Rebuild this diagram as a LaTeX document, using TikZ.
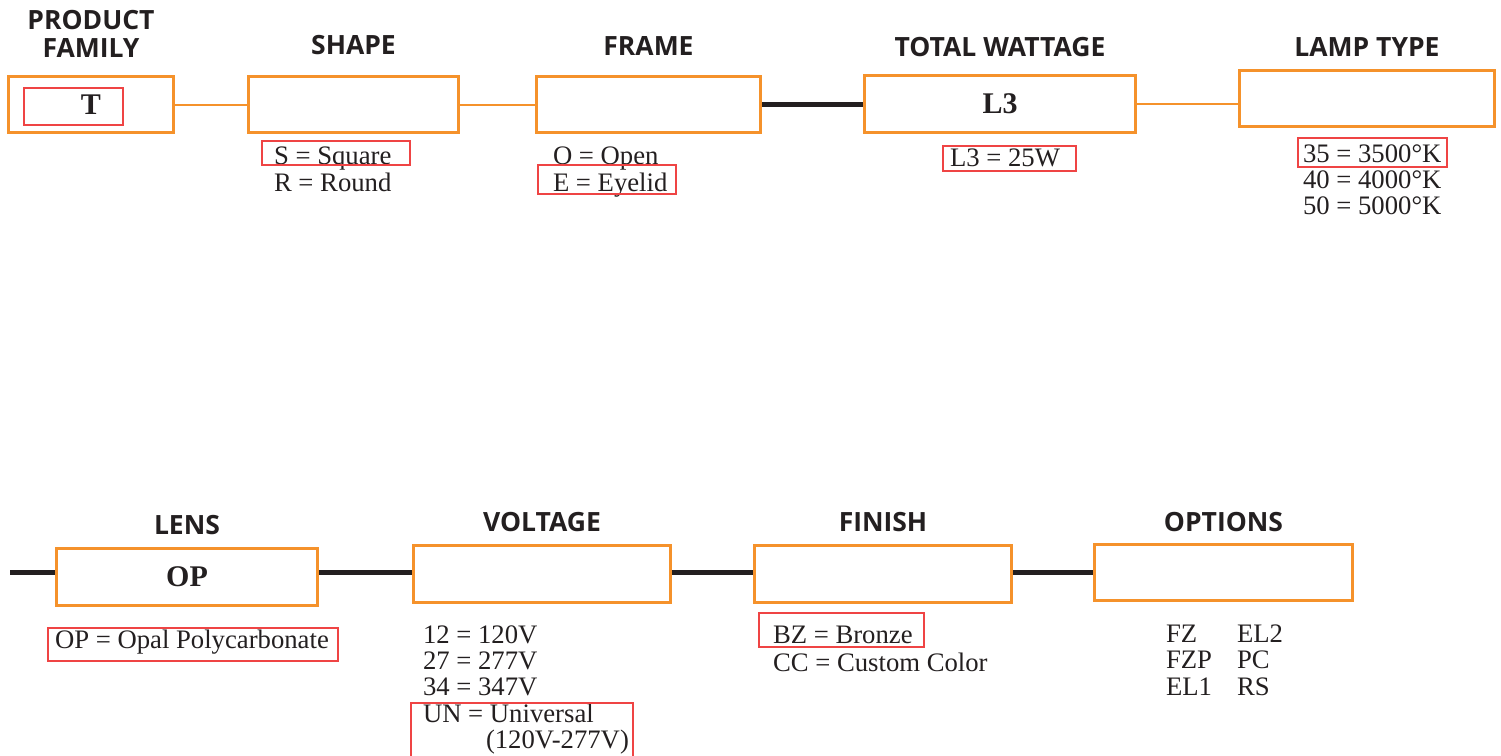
\documentclass[tikz,border=0pt]{standalone}
\usepackage{fontspec}
\setmainfont{Liberation Serif}
\newfontfamily\headfont{Open Sans}
\usetikzlibrary{positioning,backgrounds}
\definecolor{boxorange}{HTML}{F5922B}
\definecolor{pickred}{HTML}{EF4444}
\definecolor{inkblack}{HTML}{231F20}

\begin{document}
\begin{tikzpicture}[x=1pt,y=-1pt,
  every node/.style={inner sep=0pt,outer sep=0pt,text=inkblack},
  field/.style={draw=boxorange,line width=3pt,anchor=north west},
  head/.style={font=\headfont\bfseries\fontsize{26.5}{28}\selectfont,align=center},
  code/.style={font=\bfseries\fontsize{30}{30}\selectfont},
  opt/.style={font=\fontsize{26.7}{26}\selectfont,anchor=base west},
  pick/.style={draw=pickred,line width=2.6pt,anchor=north west},
  thinlink/.style={draw=boxorange,line width=2pt},
  thicklink/.style={draw=inkblack,line width=5pt}
]
\useasboundingbox (0,0) rectangle (1501,755);

% first row
\node[field,minimum width=165,minimum height=56] (fam) at (8.5,76.5) {\bfseries\fontsize{30}{30}\selectfont T};
\node[field,minimum width=210,minimum height=56] (shape) at (248.5,76.5) {};
\node[field,minimum width=224,minimum height=56] (frame) at (536.5,76.5) {};
\node[field,minimum width=271,minimum height=57] (watt) at (864.5,75.5) {};
\node[field,minimum width=255,minimum height=56] (lamp) at (1239.5,70.5) {};
\node[code] at (watt) {L3};

\node[head,above=19.5pt of fam] {PRODUCT\\FAMILY};
\node[head,above=21.5pt of shape] {SHAPE};
\node[head,above=21.5pt of frame] {FRAME};
\node[head,above=18.5pt of watt] {TOTAL WATTAGE};
\node[head,above=14.5pt of lamp] {LAMP TYPE};

% second row
\node[field,minimum width=261,minimum height=57] (lens) at (56.5,548.5) {};
\node[field,minimum width=257,minimum height=57] (volt) at (413.5,545.5) {};
\node[field,minimum width=257,minimum height=57] (finish) at (754.5,545.5) {};
\node[field,minimum width=258,minimum height=56] (options) at (1094.5,544.5) {};
\node[code] at (lens) {OP};

\node[head,above=13.5pt of lens] {LENS};
\node[head,above=13.5pt of volt] {VOLTAGE};
\node[head,above=13.5pt of finish] {FINISH};
\node[head,above=12.5pt of options] {OPTIONS};

% connectors
\coordinate (stub) at (10,572);
\begin{scope}[on background layer]
\draw[thinlink] (fam.east) -- (shape.west);
\draw[thinlink] (shape.east) -- (frame.west);
\draw[thicklink] (frame.east) -- (frame.east -| watt.west);
\draw[thinlink] (watt.east) -- (watt.east -| lamp.west);
\draw[thicklink] (stub) -- (stub -| lens.west);
\draw[thicklink] (lens.east |- stub) -- (stub -| volt.west);
\draw[thicklink] (volt.east |- stub) -- (stub -| finish.west);
\draw[thicklink] (finish.east |- stub) -- (stub -| options.west);
\end{scope}

% choices
\node[opt] (shapeS) at (274,164) {S = Square};
\node[opt] (shapeR) at (274,191) {R = Round};
\node[opt] (frameO) at (553,164) {O = Open};
\node[opt] (frameE) at (553,191) {E = Eyelid};
\node[opt] (wattL) at (950,166) {L3 = 25W};
\node[opt] (lamp35) at (1303,162) {35 = 3500°K};
\node[opt] (lamp40) at (1303,188) {40 = 4000°K};
\node[opt] (lamp50) at (1303,214) {50 = 5000°K};
\node[opt] (lensOP) at (55,648) {OP = Opal Polycarbonate};
\node[opt] (volt12) at (423,643) {12 = 120V};
\node[opt] (volt27) at (423,669) {27 = 277V};
\node[opt] (volt34) at (423,695) {34 = 347V};
\node[opt] (voltUN) at (423,722) {UN = Universal};
\node[opt] (voltRange) at (486,748) {(120V-277V)};
\node[opt] (finBZ) at (773,643) {BZ = Bronze};
\node[opt] (finCC) at (773,671) {CC = Custom Color};
\node[opt] (optFZ) at (1166,642) {FZ};
\node[opt] (optFZP) at (1166,668) {FZP};
\node[opt] (optEL1) at (1166,695) {EL1};
\node[opt] (optEL2) at (1237,642) {EL2};
\node[opt] (optPC) at (1237,668) {PC};
\node[opt] (optRS) at (1237,695) {RS};

% selected choices
\node[pick,minimum width=99,minimum height=37] (pickFam) at (24,88) {};
\node[pick,minimum width=148,minimum height=24] (pickShape) at (262,141) {};
\node[pick,minimum width=138,minimum height=29] (pickFrame) at (538,165) {};
\node[pick,minimum width=133,minimum height=25] (pickWatt) at (943,146) {};
\node[pick,minimum width=149,minimum height=29] (pickLamp) at (1298,138) {};
\node[pick,minimum width=290,minimum height=33] (pickLens) at (48,628) {};
\node[pick,minimum width=222,minimum height=70] (pickVolt) at (411,703) {};
\node[pick,minimum width=165,minimum height=34] (pickFin) at (759,613) {};
\end{tikzpicture}
\end{document}
